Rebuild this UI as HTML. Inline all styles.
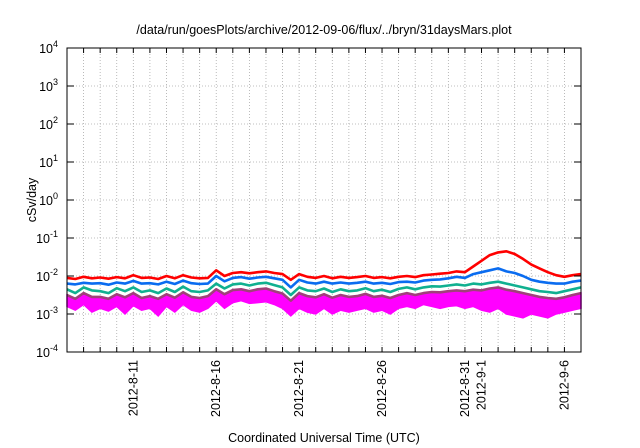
<!DOCTYPE html>
<html><head><meta charset="utf-8"><style>
body{margin:0;background:#fff}
svg{display:block;font-family:"Liberation Sans",sans-serif}
</style></head><body>
<svg id="chart" width="640" height="448">
<text x="324" y="34" font-size="12.5" text-anchor="middle">/data/run/goesPlots/archive/2012-09-06/flux/../bryn/31daysMars.plot</text>
<text transform="translate(36,200) rotate(-90)" font-size="12.5" text-anchor="middle">cSv/day</text>
<text x="324" y="442" font-size="12.5" text-anchor="middle">Coordinated Universal Time (UTC)</text>
<g id="grid"></g><g id="series"></g><g id="axes"></g>
</svg>
<script>
const yExponents=[4,3,2,1,0,-1,-2,-3,-4];
const dayCount=31;
const dateLabels=["2012-8-11","2012-8-16","2012-8-21","2012-8-26","2012-8-31","2012-9-1","2012-9-6"];
const dateLabelDays=[4,9,14,19,24,25,30];
const redSeries=[-2.05,-2.08,-2.02,-2.06,-2.04,-2.07,-2.03,-2.06,-1.98,-2.05,-2.04,-2.08,-2.0,-2.06,-1.98,-2.04,-2.06,-2.05,-1.85,-2.0,-1.92,-1.9,-1.93,-1.9,-1.88,-1.92,-1.95,-2.1,-1.95,-2.02,-2.05,-2.0,-2.06,-2.02,-2.05,-2.03,-2.0,-2.05,-2.03,-2.06,-2.02,-2.0,-2.03,-1.98,-1.96,-1.94,-1.92,-1.88,-1.9,-1.75,-1.6,-1.45,-1.38,-1.35,-1.42,-1.55,-1.7,-1.8,-1.9,-1.98,-2.02,-1.98,-1.95];
const blueSeries=[-2.2,-2.22,-2.18,-2.2,-2.19,-2.23,-2.17,-2.2,-2.13,-2.2,-2.19,-2.22,-2.15,-2.21,-2.12,-2.19,-2.21,-2.2,-2.0,-2.14,-2.05,-2.03,-2.07,-2.04,-2.02,-2.06,-2.1,-2.3,-2.1,-2.17,-2.2,-2.15,-2.2,-2.17,-2.2,-2.18,-2.15,-2.2,-2.18,-2.21,-2.16,-2.15,-2.17,-2.12,-2.1,-2.09,-2.06,-2.02,-2.05,-1.95,-1.9,-1.85,-1.8,-1.88,-1.92,-2.0,-2.1,-2.15,-2.18,-2.2,-2.2,-2.15,-2.12];
const tealSeries=[-2.35,-2.45,-2.3,-2.38,-2.4,-2.45,-2.32,-2.4,-2.3,-2.42,-2.38,-2.45,-2.33,-2.42,-2.28,-2.4,-2.42,-2.38,-2.2,-2.33,-2.22,-2.2,-2.25,-2.2,-2.18,-2.24,-2.3,-2.5,-2.3,-2.38,-2.4,-2.33,-2.42,-2.35,-2.4,-2.38,-2.32,-2.4,-2.36,-2.42,-2.34,-2.3,-2.35,-2.3,-2.27,-2.28,-2.25,-2.22,-2.25,-2.2,-2.22,-2.18,-2.15,-2.2,-2.25,-2.3,-2.35,-2.4,-2.42,-2.45,-2.4,-2.35,-2.3];
const purpleSeries=[-2.5,-2.6,-2.45,-2.55,-2.55,-2.6,-2.48,-2.56,-2.45,-2.58,-2.53,-2.6,-2.48,-2.57,-2.43,-2.55,-2.58,-2.53,-2.35,-2.48,-2.37,-2.35,-2.4,-2.35,-2.33,-2.4,-2.46,-2.65,-2.45,-2.53,-2.56,-2.48,-2.57,-2.5,-2.55,-2.53,-2.47,-2.55,-2.52,-2.58,-2.5,-2.45,-2.5,-2.45,-2.42,-2.43,-2.4,-2.38,-2.4,-2.36,-2.38,-2.33,-2.3,-2.36,-2.4,-2.45,-2.5,-2.55,-2.58,-2.6,-2.56,-2.5,-2.45];
const magentaLow=[-2.8,-2.9,-2.75,-2.95,-2.85,-2.92,-2.8,-3.0,-2.78,-2.9,-2.85,-3.05,-2.8,-2.95,-2.75,-2.9,-2.95,-2.85,-2.65,-2.85,-2.7,-2.65,-2.72,-2.7,-2.68,-2.75,-2.85,-3.05,-2.85,-2.95,-3.0,-2.85,-3.0,-2.9,-2.95,-2.9,-2.85,-2.95,-2.9,-3.0,-2.85,-2.8,-2.85,-2.75,-2.8,-2.85,-2.8,-2.78,-2.85,-2.8,-2.9,-2.95,-2.85,-3.0,-3.05,-3.1,-3.0,-3.05,-3.1,-3.0,-2.95,-2.9,-2.85];

const L=67,R=581,T=48,B=352;
const NS="http://www.w3.org/2000/svg";
function xDay(d){return L+(R-L)*d/dayCount;}
function yLog(v){return T+(B-T)*(4-v)/8;}
function xIdx(i,n){return xDay(dayCount*i/(n-1));}
function mk(tag,attrs,parent){const e=document.createElementNS(NS,tag);for(const k in attrs)e.setAttribute(k,attrs[k]);parent.appendChild(e);return e;}
const grid=document.getElementById('grid'),ser=document.getElementById('series'),axes=document.getElementById('axes');
for(let d=1;d<dayCount;d++){
  const g=mk('line',{x1:xDay(d),x2:xDay(d),y1:T,y2:B,stroke:'#aaa','stroke-dasharray':'1,2','stroke-width':0.8},grid);
  
  
  const t1=mk('line',{x1:xDay(d),x2:xDay(d),y1:B,y2:B-5,stroke:'#000'},axes);
  
  
  const t2=mk('line',{x1:xDay(d),x2:xDay(d),y1:T,y2:T+5,stroke:'#000'},axes);
  
  
}
yExponents.forEach(e=>{
  const y=yLog(e);
  if(e<4&&e>-4){const g=mk('line',{x1:L,x2:R,y1:y,y2:y,stroke:'#aaa','stroke-dasharray':'1,2','stroke-width':0.8},grid);
  
  }
  mk('line',{x1:L,x2:L+7,y1:y,y2:y,stroke:'#000'},axes);
  mk('line',{x1:R,x2:R-7,y1:y,y2:y,stroke:'#000'},axes);
  const t=mk('text',{x:58,y:y+5,'font-size':12.5,'text-anchor':'end'},axes);
  
  
  t.innerHTML='10<tspan dy="-6" font-size="9">'+e+'</tspan>';
});
dateLabels.forEach((s,i)=>{
  const x=xDay(dateLabelDays[i]);
  const t=mk('text',{transform:`translate(${x+4},${B+8}) rotate(-90)`,'font-size':12.5,'text-anchor':'end'},axes);
  
  
  t.textContent=s;
});
function pts(arr){return arr.map((v,i)=>xIdx(i,arr.length).toFixed(1)+','+yLog(v).toFixed(1)).join(' ');}
const band=mk('polygon',{points:pts(purpleSeries)+' '+pts(magentaLow).split(' ').reverse().join(' '),fill:'#ff00ff',stroke:'#ff00ff','stroke-width':1.5},ser);


[[purpleSeries,'#a0407a','purple-series'],[tealSeries,'#10b090','teal-series'],[blueSeries,'#0a6cf0','blue-series'],[redSeries,'#ff0000','red-series']].forEach(([a,c,n])=>{
  const p=mk('polyline',{points:pts(a),fill:'none',stroke:c,'stroke-width':2.6,'stroke-linejoin':'round'},ser);
  
  
});
const fr=mk('rect',{x:L,y:T,width:R-L,height:B-T,fill:'none',stroke:'#000','stroke-width':1},axes);


</script>
</body></html>
